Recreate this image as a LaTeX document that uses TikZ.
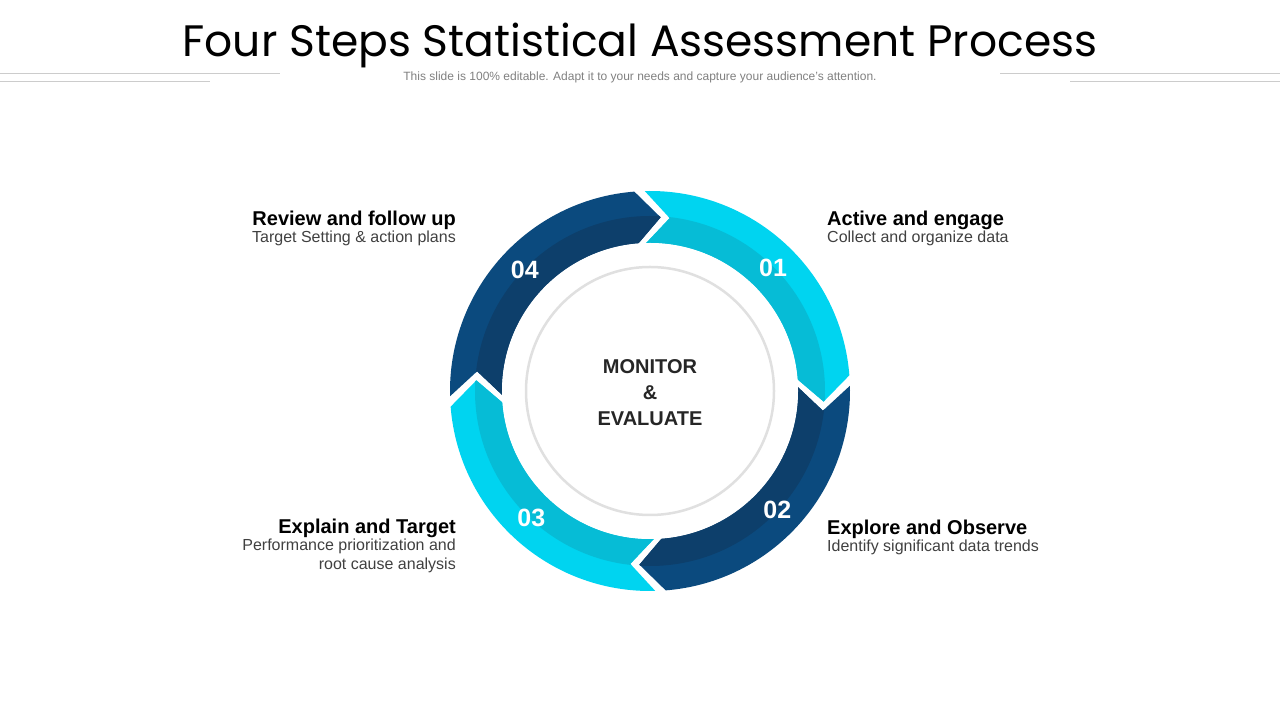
\documentclass[tikz,border=0pt]{standalone}
\usepackage{fontspec}
\setmainfont{Liberation Sans}
\newfontfamily\titlefont{Poppins}
\definecolor{darkout}{HTML}{0B4A7E}
\definecolor{darkin}{HTML}{0D3F6B}
\definecolor{lightout}{HTML}{00D4F0}
\definecolor{lightin}{HTML}{06BCD6}
\tikzset{
  head/.style={font=\fontsize{20}{22}\selectfont\bfseries, inner sep=0pt},
  sub/.style={font=\fontsize{16}{19}\selectfont, text=black!75, inner sep=0pt},
  num/.style={font=\fontsize{25}{27}\selectfont\bfseries, text=white},
  rule/.style={draw=black!20, line width=0.8pt}
}
\begin{document}
\begin{tikzpicture}[x=1pt,y=1pt]
\useasboundingbox (0,0) rectangle (1280,720);
% header
\node[font=\titlefont\fontsize{44}{48}\selectfont] (title) at (640,675) {Four Steps Statistical Assessment Process};
\node[font=\fontsize{12}{14}\selectfont, text=black!50] (subtitle) at (640,643) {This slide is 100\% editable. Adapt it to your needs and capture your audience's attention.};
\draw[rule] (0,647) -- (280,647) (1000,647) -- (1280,647);
\draw[rule] (0,639) -- (210,639) (1070,639) -- (1280,639);
% ring segments
\begin{scope}[shift={(650,329)}]
\foreach \a/\b/\co/\ci in {91.5/4.5/lightout/lightin, 1.5/-85.5/darkout/darkin,
  -88.5/-175.5/lightout/lightin, 181.5/94.5/darkout/darkin}{
  \pgfmathsetmacro\at{\a-8}
  \pgfmathsetmacro\bt{\b-8}
  \begin{scope}
    \path[clip] (\a:200) arc[start angle=\a, end angle=\b, radius=200] -- (\bt:174)
      -- (\b:148) arc[start angle=\b, end angle=\a, radius=148] -- (\at:174) -- cycle;
    \fill[\co] (0,0) circle (205);
    \fill[\ci] (0,0) circle (175);
  \end{scope}
}
\fill[white] (0,0) circle (148);
\node[circle, minimum size=248, fill=white, draw=black!12, line width=2.5pt] (hub) at (0,0) {};
\node[font=\fontsize{20}{26}\selectfont\bfseries, text=black!85, align=center] (hubtext) at (0,-2) {MONITOR\\\&\\EVALUATE};
\node[num] (n1) at (45:174) {01};
\node[num] (n2) at (-43:174) {02};
\node[num] (n3) at (-133:174) {03};
\node[num] (n4) at (136:174) {04};
\end{scope}
% labels
\node[head, anchor=west] (h1) at (827,500) {Active and engage};
\node[sub, anchor=north west] (s1) at (827,489) {Collect and organize data};
\node[head, anchor=west] (h2) at (827,191) {Explore and Observe};
\node[sub, anchor=north west] (s2) at (827,180) {Identify significant data trends};
\node[head, anchor=east] (h3) at (456,192) {Explain and Target};
\node[sub, anchor=north east, align=right] (s3) at (456,181) {Performance prioritization and\\root cause analysis};
\node[head, anchor=east] (h4) at (456,500) {Review and follow up};
\node[sub, anchor=north east] (s4) at (456,489) {Target Setting \& action plans};
\end{tikzpicture}
\end{document}
